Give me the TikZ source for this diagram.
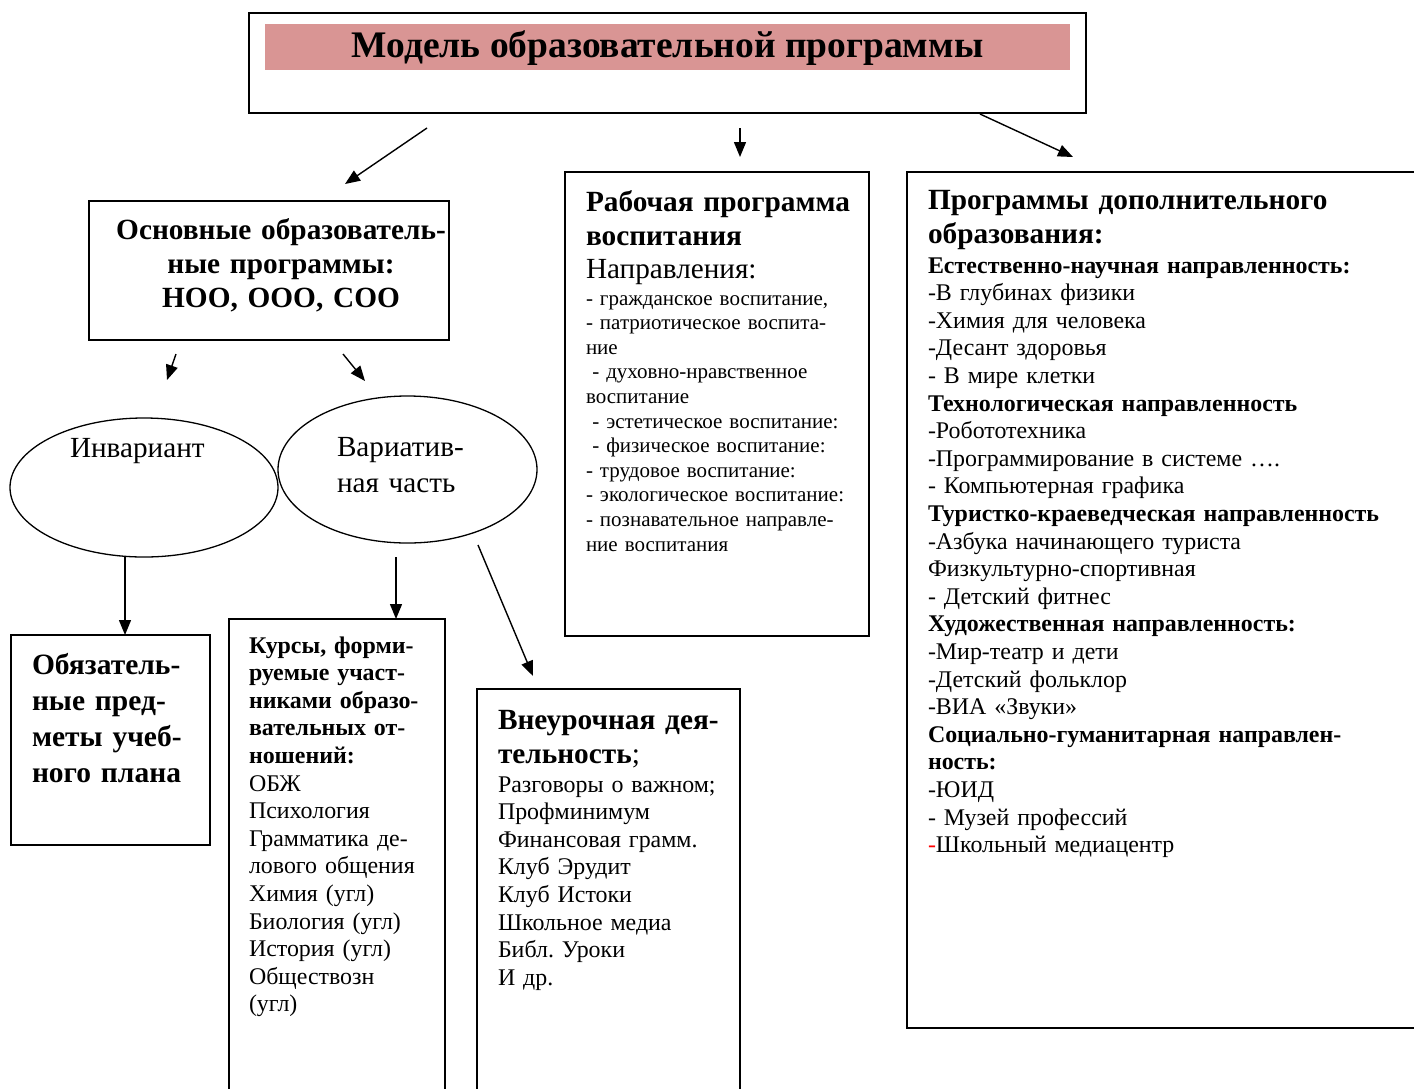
\documentclass[tikz,border=0pt]{standalone}
\usepackage{fontspec}
\setmainfont{Liberation Serif}
\usetikzlibrary{arrows.meta,shapes.geometric}
\definecolor{titlepink}{HTML}{D99594}
\frenchspacing
\newcommand\fTitle{\fontsize{37.5}{40}\selectfont\bfseries}
\newcommand\fHead{\fontsize{29.3}{34}\selectfont\bfseries}
\newcommand\fHeadN{\fontsize{29.2}{34}\selectfont}
\newcommand\fBody{\fontsize{23.9}{27.6}\selectfont}
\newcommand\fSmall{\fontsize{21}{24.6}\selectfont}
\newcommand\fOb{\fontsize{29.5}{36}\selectfont\bfseries}
\newcommand\fVar{\fontsize{29.2}{36}\selectfont}
\begin{document}
\begin{tikzpicture}[x=1pt,y=-1pt,
  box/.style={draw, line width=1.6pt, rectangle, anchor=north west, inner sep=0, outer sep=0},
  oval/.style={draw, line width=1.3pt, ellipse, inner sep=0, outer sep=0},
  txt/.style={anchor=base west, inner sep=0, outer sep=0, align=left, text width=#1},
  arr/.style={line width=1.4pt, -{Triangle[length=15pt,width=12pt]}}]
\useasboundingbox (0,0) rectangle (1414,1088);

% top box
\node[box, minimum width=837, minimum height=100] (top) at (249,13) {};
\node[anchor=north west, fill=titlepink, minimum width=805, minimum height=46, inner sep=0] (band) at (265,24) {};
\node[inner sep=0, font=\fTitle] (title) at (667.5,48) {Модель образовательной программы};

% boxes
\node[box, minimum width=360, minimum height=139] (osn) at (89,201) {};
\node[box, minimum width=304, minimum height=464] (rab) at (565,172) {};
\node[box, minimum width=520, minimum height=856] (dop) at (907,172) {};
\node[box, minimum width=199, minimum height=210] (obz) at (11,635) {};
\node[box, minimum width=216, minimum height=480] (kur) at (229,619) {};
\node[box, minimum width=263, minimum height=410] (vne) at (477,689) {};

% ellipses
\node[oval, minimum width=268, minimum height=139] (inv) at (144,487.5) {};
\node[oval, minimum width=259, minimum height=147] (var) at (407.5,469.5) {};

% texts
\node[txt=380, align=center, anchor=base, font=\fHead] (osnT) at (281,239) {Основные образователь-\\ные программы:\\НОО, ООО, СОО\par};

\node[txt=300, font=\fHead] (rabH) at (586,211) {Рабочая программа\\воспитания\par};
\node[txt=290, font=\fHeadN] (rabN) at (586,278) {Направления:\par};
\node[txt=290, font=\fSmall] (rabL) at (586,305) {- гражданское воспитание,\\
- патриотическое воспита-\\ние\\
\hspace*{0.3em}- духовно-нравственное\\воспитание\\
\hspace*{0.3em}- эстетическое воспитание:\\
\hspace*{0.3em}- физическое воспитание:\\
- трудовое воспитание:\\
- экологическое воспитание:\\
- познавательное направле-\\ние воспитания\par};

\node[txt=480, font=\fHead] (dopH) at (928,209) {Программы дополнительного\\образования:\par};
\node[txt=480, font=\fBody] (dopL) at (928,273) {\textbf{Естественно-научная направленность:}\\
-В глубинах физики\\
-Химия для человека\\
-Десант здоровья\\
- В мире клетки\\
\textbf{Технологическая направленность}\\
-Робототехника\\
-Программирование в системе ….\\
- Компьютерная графика\\
\textbf{Туристко-краеведческая направленность}\\
-Азбука начинающего туриста\\
Физкультурно-спортивная\\
- Детский фитнес\\
\textbf{Художественная направленность:}\\
-Мир-театр и дети\\
-Детский фольклор\\
-ВИА «Звуки»\\
\textbf{Социально-гуманитарная направлен-}\\
\textbf{ность:}\\
-ЮИД\\
- Музей профессий\\
\textcolor{red}{-}Школьный медиацентр\par};

\node[txt=190, font=\fOb] (obzT) at (32,674) {Обязатель-\\ные пред-\\меты учеб-\\ного плана\par};

\node[txt=195, font=\fBody] (kurT) at (249,653) {\textbf{Курсы, форми-}\\
\textbf{руемые участ-}\\
\textbf{никами образо-}\\
\textbf{вательных от-}\\
\textbf{ношений:}\\
ОБЖ\\
Психология\\
Грамматика де-\\
лового общения\\
Химия (угл)\\
Биология (угл)\\
История (угл)\\
Обществозн\\
(угл)\par};

\node[txt=245, font=\fHead] (vneH) at (498,729) {Внеурочная дея-\\тельность{\mdseries;}\par};
\node[txt=240, font=\fBody] (vneL) at (498,792) {Разговоры о важном;\\
Профминимум\\
Финансовая грамм.\\
Клуб Эрудит\\
Клуб Истоки\\
Школьное медиа\\
Библ. Уроки\\
И др.\par};

\node[txt=200, font=\fHeadN] (invT) at (70,457) {Инвариант\par};
\node[txt=200, font=\fVar] (varT) at (337,456) {Вариатив-\\ная часть\par};

% arrow coordinates
\coordinate (a1s) at (427,128); \coordinate (a1e) at (345,184);
\coordinate (a2s) at (740,128); \coordinate (a2e) at (740,157);
\coordinate (a3s) at (980,114); \coordinate (a3e) at (1073,157);
\coordinate (a4s) at (176,354); \coordinate (a4e) at (167,380);
\coordinate (a5s) at (343,354); \coordinate (a5e) at (365,381);
\coordinate (a6s) at (125,557);
\coordinate (a7s) at (396,557);
\coordinate (a8s) at (478,545); \coordinate (a8e) at (533,676);

\draw[arr] (a1s) -- (a1e);
\draw[arr] (a2s) -- (a2e);
\draw[arr] (a3s) -- (a3e);
\draw[arr] (a4s) -- (a4e);
\draw[arr] (a5s) -- (a5e);
\draw[arr] (a6s) -- (a6s |- obz.north);
\draw[arr] (a7s) -- (a7s |- kur.north);
\draw[arr] (a8s) -- (a8e);
\end{tikzpicture}
\end{document}
